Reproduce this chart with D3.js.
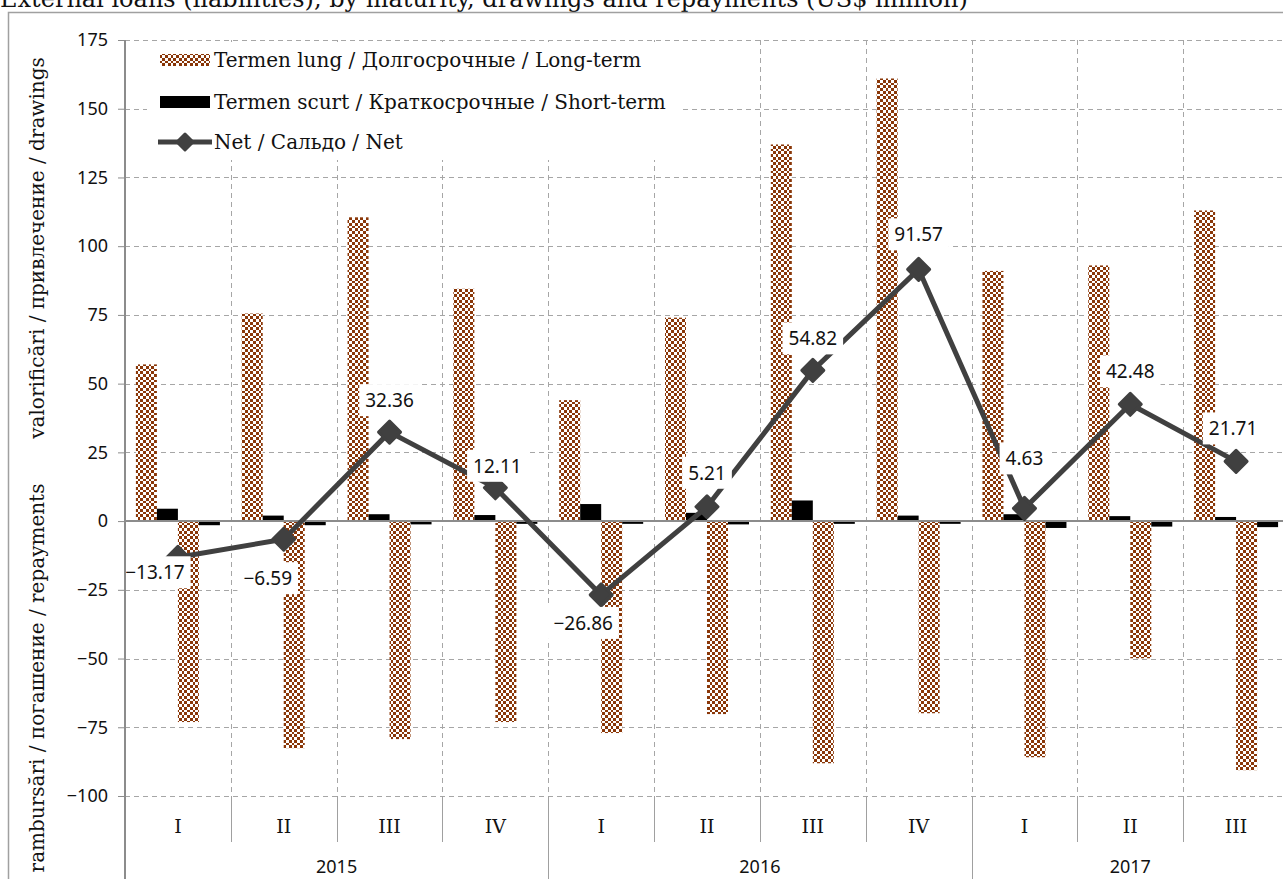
<!DOCTYPE html>
<html>
<head>
<meta charset="utf-8">
<script src="https://cdn.jsdelivr.net/npm/d3@7"></script>
<style>
  html, body { margin: 0; padding: 0; background: #fff; overflow: hidden; }
  svg { display: block; }
</style>
</head>
<body>
<svg width="1283" height="879"></svg>
<script>
// quarters and years
var quarters = ["I", "II", "III", "IV", "I", "II", "III", "IV", "I", "II", "III"];
var years = ["2015", "2016", "2017"];
var yearSpans = [4, 4, 3];

// drawings (+) and repayments (-), US$ million
var longDrawings   = [57, 75.5, 110.5, 84.5, 44, 74, 137, 161, 91, 93, 113];
var shortDrawings  = [4.5, 2, 2.5, 2.2, 6.2, 3, 7.5, 2, 2.5, 1.8, 1.5];
var longRepay      = [-73.1, -82.6, -79.3, -73.1, -77.1, -70.2, -88.1, -69.9, -85.9, -49.9, -90.6];
var shortRepay     = [-1.5, -1.5, -1.2, -1, -1, -1.2, -1, -1, -2.5, -2, -2.2];
var net            = [-13.17, -6.59, 32.36, 12.11, -26.86, 5.21, 54.82, 91.57, 4.63, 42.48, 21.71];

var yTicks = [-100, -75, -50, -25, 0, 25, 50, 75, 100, 125, 150, 175];

var legendLabels = [
  "Termen lung / Долгосрочные / Long-term",
  "Termen scurt / Краткосрочные / Short-term",
  "Net / Сальдо / Net"
];

// label nudges (px) relative to each net point
var labelDx = [-23, -16, 0, 2, -18, 0, 0, 0, 0, 0, -3];
var labelDy = [15, 39, -32, -22, 28, -34, -32, -35, -50, -33, -33];

(function() {
  var svg = d3.select("svg");
  var serif = "'DejaVu Serif', serif";
  var sans = "'Noto Sans', sans-serif";
  var brown = "#8a3708";
  var gridColor = "#a6a6a6";
  var lineColor = "#404040";

  var mLeft = 125, mRight = 1289, mTop = 40, mBottom = 796;

  var idx = d3.range(quarters.length);
  var x = d3.scaleBand().domain(idx).range([mLeft, mRight]).padding(0);
  var bw = x.bandwidth();
  var series = ["ld", "sd", "lr", "sr"];
  var inner = d3.scaleBand().domain(series).range([(bw - 84) / 2, (bw + 84) / 2]);
  var y = d3.scaleLinear().domain([-100, 175]).range([mBottom, mTop]);

  // checker pattern
  var defs = svg.append("defs");
  var pat = defs.append("pattern")
    .attr("id", "checker")
    .attr("patternUnits", "userSpaceOnUse")
    .attr("width", 11).attr("height", 11);
  pat.append("rect").attr("width", 11).attr("height", 11).attr("fill", "#fff");
  var edges = [0, 3, 6, 8, 11];
  for (var i = 0; i < 4; i++) {
    for (var j = 0; j < 4; j++) {
      if ((i + j) % 2 === 0) {
        pat.append("rect")
          .attr("x", edges[i]).attr("y", edges[j])
          .attr("width", edges[i + 1] - edges[i])
          .attr("height", edges[j + 1] - edges[j])
          .attr("fill", brown);
      }
    }
  }

  // title (cut at top)
  svg.append("text")
    .attr("x", 0).attr("y", 7)
    .style("font-family", serif).style("font-size", "24px")
    .attr("fill", "#111")
    .text("External loans (liabilities), by maturity, drawings and repayments (US$ million)");

  // outer frame
  svg.append("rect")
    .attr("x", 8.5).attr("y", 12.5)
    .attr("width", 1400).attr("height", 1000)
    .attr("fill", "#fff").attr("stroke", "#a0a0a0").attr("stroke-width", 1.5);

  // horizontal grid
  svg.append("g").selectAll("line")
    .data(yTicks.filter(function(d) { return d !== 0; }))
    .enter().append("line")
    .attr("x1", mLeft).attr("x2", mRight)
    .attr("y1", function(d) { return Math.round(y(d)) + 0.5; })
    .attr("y2", function(d) { return Math.round(y(d)) + 0.5; })
    .attr("stroke", gridColor).attr("stroke-dasharray", "5,4");

  // vertical grid at band boundaries
  svg.append("g").selectAll("line")
    .data(idx.slice(1))
    .enter().append("line")
    .attr("x1", function(d) { return Math.round(x(d)) + 0.5; })
    .attr("x2", function(d) { return Math.round(x(d)) + 0.5; })
    .attr("y1", mTop).attr("y2", mBottom)
    .attr("stroke", gridColor).attr("stroke-dasharray", "5,4");

  // bars
  var rows = idx.map(function(i) {
    return { i: i, ld: longDrawings[i], sd: shortDrawings[i], lr: longRepay[i], sr: shortRepay[i] };
  });
  var barG = svg.append("g");
  series.forEach(function(s) {
    barG.selectAll("rect." + s)
      .data(rows)
      .enter().append("rect")
      .attr("class", s)
      .attr("x", function(d) { return x(d.i) + inner(s); })
      .attr("width", inner.bandwidth())
      .attr("y", function(d) { return y(Math.max(0, d[s])); })
      .attr("height", function(d) { return Math.abs(y(d[s]) - y(0)); })
      .attr("fill", (s === "ld" || s === "lr") ? "url(#checker)" : "#000");
  });

  // zero line
  svg.append("line")
    .attr("x1", mLeft).attr("x2", mRight)
    .attr("y1", y(0)).attr("y2", y(0))
    .attr("stroke", "#8c8c8c").attr("stroke-width", 2);

  // net line
  var cx = function(i) { return x(i) + bw / 2; };
  svg.append("path")
    .datum(idx)
    .attr("fill", "none")
    .attr("stroke", lineColor).attr("stroke-width", 5)
    .attr("stroke-linejoin", "round")
    .attr("d", d3.line().x(function(i) { return cx(i); }).y(function(i) { return y(net[i]); }));

  function diamond(g, px, py, r) {
    g.append("path")
      .attr("d", "M" + px + "," + (py - r) + "L" + (px + r) + "," + py + "L" + px + "," + (py + r) + "L" + (px - r) + "," + py + "Z")
      .attr("fill", lineColor).attr("stroke", lineColor)
      .attr("stroke-width", 3).attr("stroke-linejoin", "round");
  }
  var markG = svg.append("g");
  idx.forEach(function(i) { diamond(markG, cx(i), y(net[i]), 11); });

  // data labels
  var lblG = svg.append("g");
  idx.forEach(function(i) {
    var g = lblG.append("g");
    var t = g.append("text")
      .attr("x", cx(i) + labelDx[i])
      .attr("y", y(net[i]) + labelDy[i])
      .attr("text-anchor", "middle")
      .attr("dominant-baseline", "central")
      .style("font-family", sans).style("font-size", "19px")
      .attr("fill", "#111")
      .text(d3.format(".2f")(net[i]));
    var bb = t.node().getBBox();
    g.insert("rect", "text")
      .attr("x", bb.x - 6).attr("y", bb.y - 3)
      .attr("width", bb.width + 12).attr("height", bb.height + 6)
      .attr("fill", "#fff");
  });

  // y axis
  var yAxis = svg.append("g")
    .attr("transform", "translate(" + mLeft + ",0)")
    .call(d3.axisLeft(y).tickValues(yTicks).tickSize(7).tickPadding(10));
  yAxis.select(".domain").remove();
  yAxis.selectAll(".tick line").attr("stroke", "#8c8c8c");
  yAxis.selectAll(".tick text")
    .style("font-family", sans).style("font-size", "18px").attr("fill", "#111");
  svg.append("line")
    .attr("x1", mLeft).attr("x2", mLeft)
    .attr("y1", mTop).attr("y2", 879)
    .attr("stroke", "#8c8c8c").attr("stroke-width", 2);

  // y titles
  svg.append("text")
    .attr("transform", "translate(44,248) rotate(-90)")
    .attr("text-anchor", "middle")
    .style("font-family", serif).style("font-size", "20px").attr("fill", "#111")
    .text("valorificări / привлечение / drawings");
  svg.append("text")
    .attr("transform", "translate(44,678) rotate(-90)")
    .attr("text-anchor", "middle")
    .style("font-family", serif).style("font-size", "20px").attr("fill", "#111")
    .text("rambursări / погашение / repayments");

  // category axis: quarter separators and labels
  var catG = svg.append("g");
  catG.selectAll("line.q")
    .data(idx.slice(1))
    .enter().append("line")
    .attr("class", "q")
    .attr("x1", function(d) { return Math.round(x(d)) + 0.5; })
    .attr("x2", function(d) { return Math.round(x(d)) + 0.5; })
    .attr("y1", mBottom).attr("y2", 842)
    .attr("stroke", "#a0a0a0");
  catG.selectAll("text.q")
    .data(idx)
    .enter().append("text")
    .attr("class", "q")
    .attr("x", function(d) { return cx(d); })
    .attr("y", 833)
    .attr("text-anchor", "middle")
    .style("font-family", serif).style("font-size", "19px").attr("fill", "#111")
    .text(function(d) { return quarters[d]; });

  // years
  var start = 0;
  years.forEach(function(yr, k) {
    var a = x(start), b = start + yearSpans[k] < quarters.length ? x(start + yearSpans[k]) : mRight;
    if (k > 0) {
      catG.append("line")
        .attr("x1", Math.round(a) + 0.5).attr("x2", Math.round(a) + 0.5)
        .attr("y1", mBottom).attr("y2", 879)
        .attr("stroke", "#a0a0a0");
    }
    catG.append("text")
      .attr("x", (a + b) / 2).attr("y", 873)
      .attr("text-anchor", "middle")
      .style("font-family", sans).style("font-size", "18px").attr("fill", "#111")
      .text(yr);
    start += yearSpans[k];
  });

  // legend
  var leg = svg.append("g");
  leg.append("rect")
    .attr("x", 147).attr("y", 42).attr("width", 536).attr("height", 118)
    .attr("fill", "#fff");
  var rowY = [60, 102, 142];
  leg.append("rect").attr("x", 160).attr("y", rowY[0] - 6).attr("width", 50).attr("height", 12)
    .attr("fill", "url(#checker)");
  leg.append("rect").attr("x", 160).attr("y", rowY[1] - 6).attr("width", 50).attr("height", 12)
    .attr("fill", "#000");
  leg.append("line").attr("x1", 158).attr("x2", 212).attr("y1", rowY[2]).attr("y2", rowY[2])
    .attr("stroke", lineColor).attr("stroke-width", 5);
  diamond(leg, 185, rowY[2], 8);
  leg.selectAll("text")
    .data(legendLabels)
    .enter().append("text")
    .attr("x", 214)
    .attr("y", function(d, k) { return rowY[k]; })
    .attr("dominant-baseline", "central")
    .style("font-family", serif).style("font-size", "20px").attr("fill", "#111")
    .text(function(d) { return d; });
})();
</script>
</body>
</html>
